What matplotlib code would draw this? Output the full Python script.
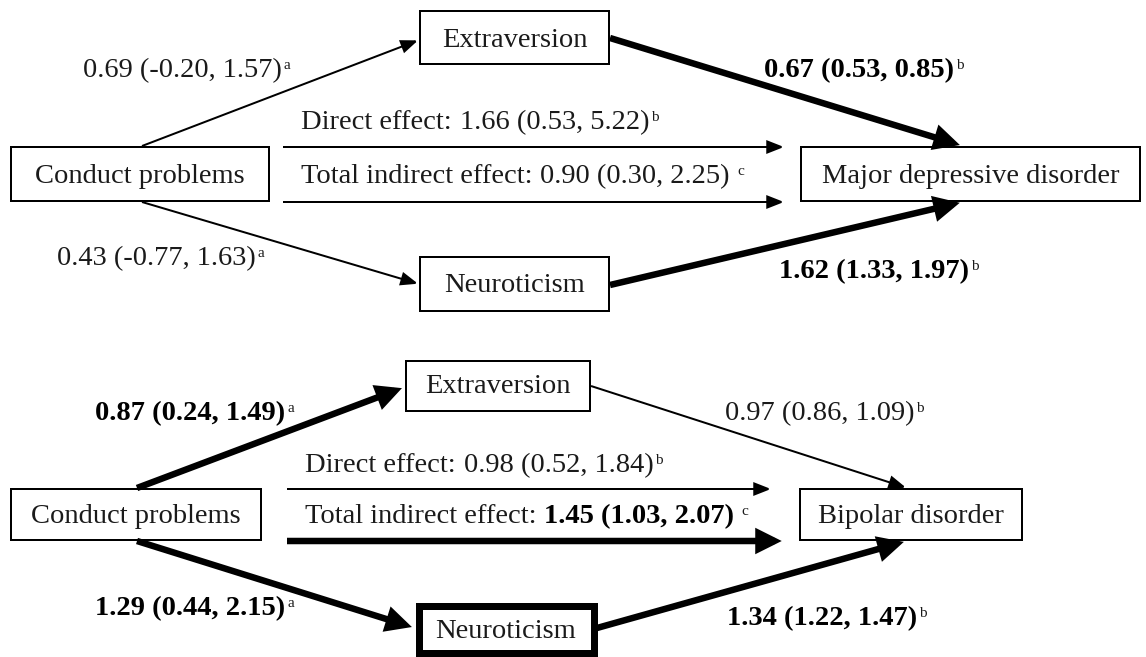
import matplotlib
matplotlib.use("Agg")
import matplotlib.pyplot as plt
from matplotlib.patches import Rectangle, FancyArrowPatch, ArrowStyle

# ---------------- data ----------------
outcomes = ["Major depressive disorder", "Bipolar disorder"]
exposure = "Conduct problems"
traits = ["Extraversion", "Neuroticism"]

# a paths: Conduct problems -> trait  (per panel: [Extraversion, Neuroticism])
a_est = [[0.69, 0.43], [0.87, 1.29]]
a_lo = [[-0.20, -0.77], [0.24, 0.44]]
a_hi = [[1.57, 1.63], [1.49, 2.15]]
a_sig = [[False, False], [True, True]]

# b paths: trait -> disorder
b_est = [[0.67, 1.62], [0.97, 1.34]]
b_lo = [[0.53, 1.33], [0.86, 1.22]]
b_hi = [[0.85, 1.97], [1.09, 1.47]]
b_sig = [[True, True], [False, True]]

# direct effect
direct_est = [1.66, 0.98]
direct_lo = [0.53, 0.52]
direct_hi = [5.22, 1.84]
direct_sig = [False, False]

# total indirect effect
indirect_est = [0.90, 1.45]
indirect_lo = [0.30, 1.03]
indirect_hi = [2.25, 2.07]
indirect_sig = [False, True]

# highlighted mediator boxes
trait_highlight = [[False, False], [False, True]]

sup_a, sup_b, sup_c = "a", "b", "c"

# ---------------- layout (pixel coordinates, y downwards; label y = baseline) ----------------
layouts = [
    dict(
        cp=(10, 146, 270, 202), cp_base=183,
        tr=[(419, 10, 610, 65), (419, 256, 610, 312)], tr_base=[47, 292],
        out=(800, 146, 1141, 202), out_base=183,
        a_from=[(142, 146), (142, 202)],
        a_to=[(419, 40), (419, 284)],
        b_from=[(610, 38), (610, 285)],
        b_to=[(963, 146), (963, 202)],
        direct=((283, 147), (785, 147)),
        indirect=((283, 202), (785, 202)),
        a_lab=[(83, 77), (57, 265)],
        b_lab=[(764, 77), (779, 278)],
        d_lab=(301, 129),
        i_lab=(301, 183),
    ),
    dict(
        cp=(10, 488, 262, 541), cp_base=523,
        tr=[(405, 360, 591, 412), (415, 602, 597, 656)], tr_base=[393, 638],
        out=(799, 488, 1023, 541), out_base=523,
        a_from=[(137, 488), (137, 541)],
        a_to=[(405, 387), (415, 628)],
        b_from=[(591, 386), (597, 628)],
        b_to=[(907, 488), (907, 541)],
        direct=((287, 489), (772, 489)),
        indirect=((287, 541), (785, 541)),
        a_lab=[(95, 420), (95, 615)],
        b_lab=[(725, 420), (727, 625)],
        d_lab=(305, 472),
        i_lab=(305, 523),
    ),
]

W, H = 1146, 657
FONT = "Liberation Serif"
FS = 20.5
SUP_FS = 11
TXT = "#1a1a1a"

fig = plt.figure(figsize=(W / 100, H / 100), dpi=100)
ax = fig.add_axes([0, 0, 1, 1])
ax.set_xlim(0, W)
ax.set_ylim(H, 0)
ax.axis("off")
renderer = fig.canvas.get_renderer()
inv = ax.transData.inverted()

PX = 0.72  # points per pixel at 100 dpi


def box(rect, text, base, thick=False):
    x0, y0, x1, y1 = rect
    lwpx = 7 if thick else 2
    h = lwpx / 2
    ax.add_patch(Rectangle((x0 + h, y0 + h), x1 - x0 - 2 * h, y1 - y0 - 2 * h,
                           fill=False, ec="black", lw=lwpx * PX, joinstyle="miter"))
    ax.text((x0 + x1) / 2, base, text, fontsize=FS, family=FONT,
            color=TXT, ha="center", va="baseline")


def arrow(p0, p1, thick=False):
    if thick:
        lwpx, hl, hw = 6.5, 16, 8
    else:
        lwpx, hl, hw = 2, 14, 5.5
    style = ArrowStyle("-|>", head_length=hl * PX, head_width=hw * PX)
    ax.add_patch(FancyArrowPatch(p0, p1, arrowstyle=style, mutation_scale=1,
                                 lw=lwpx * PX, color="black", shrinkA=0,
                                 shrinkB=(lwpx / 2) * PX, joinstyle="miter",
                                 capstyle="butt"))


def end_x(t):
    bb = t.get_window_extent(renderer)
    return inv.transform((bb.x1, bb.y0))[0]


def fmt(e, lo, hi):
    return f"{e:.2f} ({lo:.2f}, {hi:.2f})"


def label(pos, value, sup, bold, prefix=None, sup_gap=2):
    x, y = pos
    if prefix:
        tp = ax.text(x, y, prefix, fontsize=FS, family=FONT, color=TXT,
                     ha="left", va="baseline")
        x = end_x(tp) + 8
    t = ax.text(x, y, value, fontsize=FS, family=FONT,
                color="black" if bold else TXT,
                weight="bold" if bold else "normal", ha="left", va="baseline")
    ax.text(end_x(t) + sup_gap, y - 8, sup, fontsize=SUP_FS, family=FONT,
            color=TXT, ha="left", va="baseline")


for p, L in enumerate(layouts):
    box(L["cp"], exposure, L["cp_base"])
    box(L["out"], outcomes[p], L["out_base"])
    for k in range(2):
        box(L["tr"][k], traits[k], L["tr_base"][k], thick=trait_highlight[p][k])
        arrow(L["a_from"][k], L["a_to"][k], thick=a_sig[p][k])
        arrow(L["b_from"][k], L["b_to"][k], thick=b_sig[p][k])
        label(L["a_lab"][k], fmt(a_est[p][k], a_lo[p][k], a_hi[p][k]), sup_a, a_sig[p][k])
        label(L["b_lab"][k], fmt(b_est[p][k], b_lo[p][k], b_hi[p][k]), sup_b, b_sig[p][k])
    arrow(*L["direct"], thick=direct_sig[p])
    arrow(*L["indirect"], thick=indirect_sig[p])
    label(L["d_lab"], fmt(direct_est[p], direct_lo[p], direct_hi[p]), sup_b,
          direct_sig[p], prefix="Direct effect:")
    label(L["i_lab"], fmt(indirect_est[p], indirect_lo[p], indirect_hi[p]), sup_c,
          indirect_sig[p], prefix="Total indirect effect:", sup_gap=7)

fig.savefig("out.png", dpi=100, facecolor="white")
